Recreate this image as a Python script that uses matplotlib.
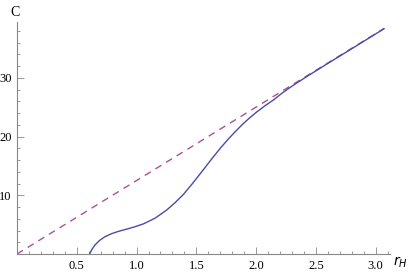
import numpy as np
import matplotlib.pyplot as plt

# values
r_curve = [0.608, 0.625, 0.653, 0.69, 0.736, 0.79, 0.848, 0.92, 0.987, 1.06, 1.155, 1.253,
           1.32, 1.39, 1.46, 1.53, 1.61, 1.70, 1.76, 1.824, 1.88, 1.936, 2.0, 2.075, 2.15,
           2.215, 2.28, 2.35, 2.45, 2.6, 2.8, 3.07]
c_curve = [0.0, 0.73, 1.56, 2.3, 2.95, 3.45, 3.85, 4.25, 4.64, 5.15, 6.1, 7.5,
           8.7, 10.1, 11.8, 13.6, 15.7, 18.0, 19.4, 20.8, 21.95, 23.0, 24.1, 25.25, 26.3,
           27.35, 28.3, 29.25, 30.55, 32.45, 34.95, 38.35]
r_line = [0.0, 3.07]
c_line = [0.0, 38.4]

plt.rcParams['font.family'] = ['Liberation Serif', 'DejaVu Serif']

fig = plt.figure(figsize=(4.15, 2.73), dpi=100)
ax = fig.add_axes([17/415, 19/273, 373/415, 232/273])

ax.plot(r_line, c_line, color='#AD5090', lw=1.0, dashes=(5, 4))
ax.plot(r_curve, c_curve, color='#4B4BA8', lw=1.0)

ax.set_xlim(0, 3.12)
ax.set_ylim(0, 39.5)

for s in ['top', 'right']:
    ax.spines[s].set_visible(False)
for s in ['left', 'bottom']:
    ax.spines[s].set_color('#888888')
    ax.spines[s].set_linewidth(0.8)

ax.set_xticks([0.5, 1.0, 1.5, 2.0, 2.5, 3.0])
ax.set_xticklabels(['0.5', '1.0', '1.5', '2.0', '2.5', '3.0'])
ax.set_xticks(np.arange(0.1, 3.11, 0.1), minor=True)
ax.set_yticks([10, 20, 30])
ax.set_yticks(np.arange(2, 39.5, 2), minor=True)

ax.tick_params(which='both', direction='in', color='#888888', labelsize=9, width=0.6)
ax.tick_params(which='major', length=5, pad=4)
ax.tick_params(which='minor', length=2.5)

ax.text(-0.005, 1.043, 'C', transform=ax.transAxes, fontsize=10, ha='center', va='center')
ax.text(1.008, -0.034, r'$r_H$', transform=ax.transAxes, fontsize=10, ha='left', va='center')

fig.savefig('out.png', dpi=100)
